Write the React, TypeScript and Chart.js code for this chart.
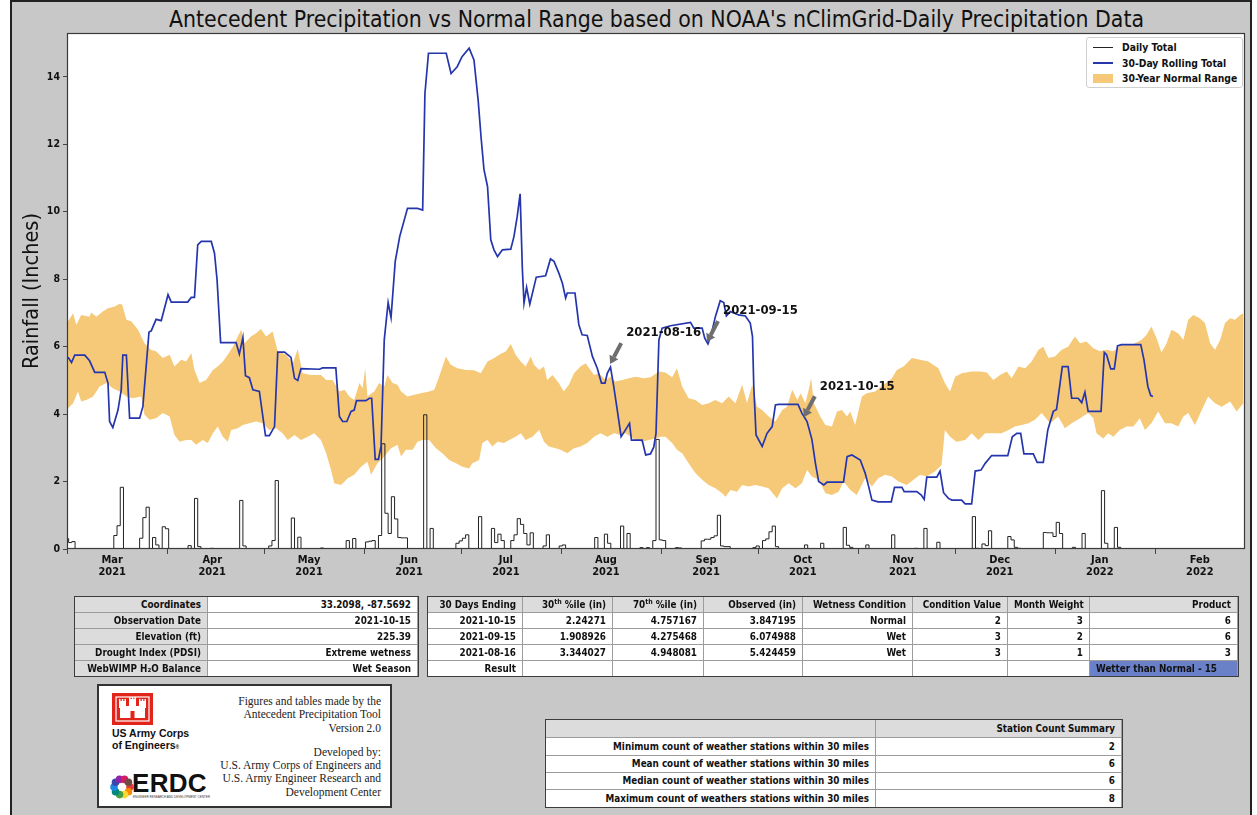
import React, { useEffect, useRef } from 'react';
import { Chart, registerables } from 'chart.js';
Chart.register(...registerables);

// ---------------- data (x = days since 2021-03-01) ----------------
const monthStarts = [0, 31, 61, 92, 122, 153, 184, 214, 245, 275, 306, 337];
const monthNames = ['Mar', 'Apr', 'May', 'Jun', 'Jul', 'Aug', 'Sep', 'Oct', 'Nov', 'Dec', 'Jan', 'Feb'];
const monthYears = ['2021', '2021', '2021', '2021', '2021', '2021', '2021', '2021', '2021', '2021', '2022', '2022'];
const yTicks = [0, 2, 4, 6, 8, 10, 12, 14];

const rollingDays = [0.3, 1.4, 2.4, 5.5, 7.0, 8.6, 11.7, 12.7, 13.2, 14.2, 15.8, 16.8, 17.3, 18.4, 19.4, 22.5, 23.5, 25.4, 26.1, 27.6, 29.2, 31.3, 32.3, 37.4, 38.5, 39.5, 40.5, 41.6, 44.7, 45.7, 46.5, 47.6, 52.4, 53.4, 54.5, 55.3, 56.5, 57.6, 59.6, 61.5, 62.7, 64.3, 65.3, 67.4, 69.4, 70.5, 71.5, 72.5, 78.2, 79.2, 83.3, 84.4, 85.4, 86.7, 88.0, 89.0, 89.7, 92.6, 93.7, 94.4, 95.5, 96.5, 97.3, 98.3, 99.5, 100.4, 101.7, 103.1, 105.5, 108.6, 110.2, 110.9, 112.0, 117.5, 119.0, 120.9, 122.4, 124.6, 126.1, 127.4, 128.3, 129.2, 130.3, 131.3, 132.3, 133.4, 134.9, 137.5, 138.5, 139.5, 140.4, 141.1, 141.6, 142.4, 143.4, 145.4, 148.3, 149.8, 150.9, 152.4, 153.5, 154.5, 155.0, 157.4, 158.6, 159.6, 161.2, 162.8, 164.3, 165.6, 166.7, 167.4, 168.4, 169.4, 170.5, 171.7, 172.7, 174.3, 174.9, 178.2, 179.3, 180.8, 181.8, 182.5, 183.4, 184.4, 187.0, 193.2, 194.2, 196.8, 197.6, 198.6, 199.7, 200.9, 202.4, 203.5, 204.3, 205.5, 208.1, 210.2, 211.7, 212.4, 212.8, 213.5, 215.4, 216.9, 218.5, 219.5, 220.5, 226.5, 227.7, 229.3, 230.8, 231.9, 232.9, 234.5, 235.5, 240.6, 241.7, 243.2, 245.8, 247.3, 248.4, 249.4, 251.3, 255.4, 256.4, 258.7, 259.4, 263.3, 264.7, 265.6, 266.4, 269.5, 270.5, 271.6, 273.1, 274.2, 277.2, 278.3, 280.3, 281.4, 283.2, 284.5, 286.5, 291.5, 292.9, 294.3, 295.5, 296.5, 299.4, 300.6, 302.5, 303.9, 305.6, 306.6, 308.4, 310.2, 311.3, 313.3, 314.4, 315.4, 316.4, 320.4, 321.4, 322.1, 323.4, 324.5, 325.5, 326.7, 332.7, 333.7, 334.9, 335.8, 336.5];
const rollingVals = [5.69, 5.53, 5.75, 5.75, 5.58, 5.24, 5.24, 4.92, 3.78, 3.6, 4.12, 4.72, 5.75, 5.75, 3.88, 3.88, 4.22, 6.43, 6.47, 6.81, 6.77, 7.54, 7.32, 7.32, 7.46, 7.46, 9.02, 9.12, 9.12, 8.77, 7.98, 6.12, 6.12, 5.78, 6.27, 5.14, 5.08, 4.72, 4.67, 3.36, 3.36, 3.63, 5.84, 5.84, 5.68, 5.06, 5.0, 5.35, 5.33, 5.37, 5.37, 3.93, 3.78, 3.78, 4.08, 4.12, 4.4, 4.4, 4.47, 4.47, 2.66, 2.66, 3.04, 6.2, 7.31, 6.86, 8.53, 9.27, 10.1, 10.1, 10.05, 13.5, 14.7, 14.7, 14.1, 14.3, 14.6, 14.85, 14.5, 13.3, 12.2, 11.25, 10.75, 9.17, 8.87, 8.67, 8.87, 8.89, 9.27, 9.86, 10.53, 8.28, 7.29, 7.76, 7.26, 8.06, 8.1, 8.6, 8.53, 8.18, 7.88, 7.44, 7.59, 7.59, 6.65, 6.35, 6.33, 5.71, 5.36, 4.92, 4.92, 5.21, 5.39, 4.82, 4.12, 3.33, 3.48, 3.73, 3.23, 3.23, 2.79, 2.82, 3.02, 3.43, 6.2, 6.55, 6.62, 6.72, 6.55, 6.55, 6.25, 6.08, 6.4, 6.89, 7.36, 7.31, 6.91, 7.04, 6.94, 6.91, 6.7, 6.3, 4.82, 3.38, 3.04, 3.43, 3.63, 4.27, 4.29, 4.29, 4.03, 3.78, 3.25, 2.54, 2.0, 1.9, 1.98, 1.98, 2.74, 2.79, 2.64, 2.25, 1.85, 1.45, 1.4, 1.4, 1.83, 1.83, 1.7, 1.7, 1.6, 1.47, 2.13, 2.13, 2.31, 1.67, 1.5, 1.45, 1.45, 1.34, 1.34, 2.31, 2.34, 2.54, 2.77, 2.77, 3.33, 3.43, 3.43, 2.82, 2.82, 2.57, 2.57, 3.53, 4.08, 4.14, 5.41, 5.41, 4.47, 4.47, 4.34, 4.65, 4.08, 4.08, 5.83, 5.76, 5.34, 5.34, 6.02, 6.06, 6.06, 5.61, 4.82, 4.55, 4.52];

const upperDays = [0.3, 1.9, 2.9, 4.4, 7.0, 7.5, 9.1, 11.1, 12.7, 14.8, 16.3, 17.1, 18.4, 19.9, 22.0, 24.0, 26.1, 27.6, 29.7, 31.8, 33.3, 35.4, 36.9, 38.5, 39.5, 41.1, 43.1, 45.2, 46.7, 48.3, 49.8, 51.4, 52.9, 54.0, 55.0, 57.0, 58.6, 60.1, 61.7, 63.7, 65.3, 67.9, 70.0, 71.5, 73.0, 75.6, 78.7, 80.3, 82.3, 84.4, 86.0, 87.5, 89.0, 90.6, 91.6, 92.4, 93.1, 95.2, 96.7, 98.3, 99.3, 100.9, 102.4, 103.5, 105.5, 107.6, 109.6, 112.2, 113.8, 115.3, 117.4, 118.9, 121.0, 123.6, 126.1, 128.2, 130.3, 132.4, 133.9, 136.0, 137.5, 139.0, 140.6, 142.1, 143.7, 144.7, 146.3, 147.8, 148.8, 150.4, 152.4, 153.9, 155.5, 157.1, 159.1, 160.7, 162.2, 163.3, 164.8, 166.9, 168.4, 169.9, 172.0, 174.1, 176.2, 178.7, 180.8, 183.4, 185.4, 187.5, 189.0, 190.6, 192.6, 194.7, 196.8, 198.8, 200.9, 203.0, 205.0, 207.1, 209.2, 210.7, 212.3, 213.8, 215.4, 217.4, 219.5, 221.6, 223.1, 224.7, 226.3, 227.3, 228.8, 229.9, 230.6, 231.4, 233.4, 235.0, 237.0, 238.6, 240.1, 241.7, 242.7, 244.2, 246.3, 247.8, 250.4, 253.0, 255.6, 257.1, 259.2, 261.8, 264.3, 266.9, 270.0, 272.0, 273.6, 275.2, 277.2, 280.3, 282.9, 285.0, 287.0, 289.1, 291.2, 292.7, 294.8, 296.9, 298.9, 301.0, 302.5, 304.1, 306.1, 308.2, 310.2, 312.3, 313.9, 315.9, 318.0, 320.1, 322.1, 324.2, 326.7, 329.8, 332.9, 334.5, 336.0, 337.6, 339.1, 340.7, 342.2, 344.3, 345.9, 347.4, 349.0, 351.0, 352.6, 354.2, 355.7, 357.3, 358.8, 360.4, 361.9, 363.5, 364.5];
const upperVals = [6.75, 6.99, 6.65, 6.94, 6.89, 7.01, 6.89, 7.04, 7.14, 7.19, 7.27, 7.24, 6.8, 6.75, 6.5, 6.1, 5.9, 5.86, 5.66, 5.76, 5.41, 5.61, 5.56, 5.81, 5.31, 4.92, 5.01, 5.31, 5.41, 5.56, 5.76, 6.0, 6.3, 6.5, 6.1, 6.3, 6.4, 6.52, 6.3, 6.45, 5.86, 5.76, 5.51, 5.93, 5.21, 5.16, 5.16, 5.01, 5.01, 4.67, 4.72, 4.52, 4.42, 4.92, 4.77, 5.36, 4.52, 4.67, 4.92, 4.82, 5.16, 4.92, 4.87, 4.67, 4.52, 4.57, 4.62, 4.67, 4.72, 5.11, 5.71, 5.46, 5.36, 5.31, 5.3, 5.21, 5.56, 5.66, 5.76, 5.86, 6.08, 5.76, 5.56, 5.41, 5.71, 5.46, 5.31, 5.41, 5.01, 5.16, 4.92, 4.67, 4.87, 5.21, 5.41, 5.51, 5.31, 5.16, 5.21, 5.01, 5.11, 4.97, 5.01, 5.06, 5.11, 5.06, 5.09, 5.26, 5.23, 5.09, 5.36, 4.82, 4.47, 4.42, 4.27, 4.32, 4.42, 4.32, 4.52, 4.32, 4.87, 4.32, 4.87, 4.22, 4.12, 3.93, 3.78, 4.12, 4.22, 4.72, 4.42, 4.62, 4.32, 4.77, 5.06, 4.32, 3.93, 3.68, 3.63, 4.08, 4.12, 3.93, 4.08, 3.68, 4.52, 4.62, 4.67, 4.87, 5.06, 5.31, 5.41, 5.66, 5.61, 5.56, 5.36, 4.92, 4.67, 5.11, 5.21, 5.26, 5.26, 5.23, 5.01, 5.16, 5.26, 5.06, 5.41, 5.36, 5.56, 5.91, 6.0, 5.66, 5.71, 5.91, 6.0, 6.3, 6.1, 6.15, 5.95, 5.86, 5.91, 5.86, 6.05, 6.05, 6.2, 6.35, 6.6, 6.25, 5.83, 6.1, 6.5, 6.4, 6.2, 6.8, 6.94, 6.84, 6.7, 6.1, 5.91, 6.2, 6.7, 6.84, 6.8, 6.94, 6.99];

const lowerDays = [0.3, 1.9, 3.4, 4.4, 6.0, 8.1, 10.1, 12.2, 14.2, 16.3, 18.4, 20.4, 23.0, 24.0, 25.6, 27.6, 29.7, 31.8, 33.3, 34.9, 36.9, 38.5, 40.0, 42.1, 43.6, 45.2, 46.7, 48.3, 49.8, 50.9, 52.9, 54.5, 56.5, 58.6, 60.6, 62.7, 64.8, 66.8, 68.4, 70.5, 72.5, 74.6, 76.6, 78.7, 80.3, 81.8, 82.8, 84.9, 87.0, 89.0, 91.1, 93.1, 94.2, 96.2, 98.3, 100.4, 102.4, 103.5, 105.0, 107.1, 108.6, 110.2, 112.2, 114.3, 116.3, 118.4, 120.5, 122.5, 124.6, 125.6, 127.7, 128.7, 130.3, 131.8, 133.4, 135.4, 137.0, 139.0, 140.6, 142.1, 144.2, 146.3, 147.8, 149.3, 151.4, 152.9, 155.0, 157.1, 159.1, 161.2, 163.3, 165.3, 167.4, 169.5, 171.5, 173.1, 174.6, 176.2, 178.2, 180.3, 182.3, 183.9, 185.4, 187.5, 189.0, 190.6, 192.6, 194.7, 196.8, 198.8, 200.9, 203.0, 204.0, 205.6, 207.6, 209.2, 211.2, 213.3, 215.4, 217.4, 220.0, 221.6, 223.6, 225.7, 227.7, 229.3, 230.8, 232.9, 235.0, 237.0, 239.1, 240.6, 242.7, 244.7, 247.3, 249.4, 251.4, 253.5, 255.6, 257.6, 260.2, 262.3, 264.3, 266.4, 268.9, 271.0, 272.0, 273.6, 275.6, 278.3, 280.3, 282.4, 284.5, 287.0, 289.6, 291.7, 293.7, 295.8, 297.9, 299.9, 302.0, 304.6, 307.1, 309.2, 311.3, 313.9, 316.4, 318.0, 319.0, 321.1, 322.6, 324.2, 326.2, 328.3, 330.4, 332.4, 334.0, 336.0, 338.1, 340.2, 342.2, 344.3, 345.9, 347.4, 349.5, 351.6, 353.6, 355.7, 357.8, 360.4, 362.4, 364.5];
const lowerVals = [4.17, 4.32, 4.67, 4.37, 4.42, 4.52, 4.82, 4.92, 4.77, 4.67, 4.52, 4.47, 4.52, 3.98, 3.83, 3.88, 4.03, 3.93, 3.38, 3.18, 3.23, 3.23, 3.09, 3.23, 3.14, 3.43, 3.63, 3.33, 3.18, 3.53, 3.58, 3.68, 3.73, 3.78, 3.73, 3.53, 3.58, 3.43, 3.23, 3.38, 3.23, 3.33, 3.43, 3.23, 2.84, 2.34, 1.95, 1.9, 2.1, 2.2, 2.44, 2.59, 2.2, 2.54, 2.74, 2.99, 3.09, 2.74, 2.94, 2.94, 3.18, 3.23, 3.23, 2.99, 2.84, 2.64, 2.54, 2.44, 2.39, 2.54, 2.64, 3.14, 3.23, 3.04, 3.18, 3.14, 3.23, 3.33, 3.43, 3.23, 3.33, 3.53, 3.18, 3.04, 2.99, 2.94, 2.84, 2.99, 3.04, 3.14, 3.33, 3.43, 3.33, 3.43, 3.38, 3.43, 3.33, 3.23, 3.18, 3.23, 3.28, 3.33, 3.33, 3.14, 2.94, 2.84, 2.54, 2.25, 2.05, 1.9, 1.8, 1.65, 1.55, 1.75, 1.7, 1.9, 1.85, 1.9, 1.85, 1.8, 1.5, 1.8, 1.95, 1.8, 1.95, 2.34, 2.15, 2.05, 1.65, 1.6, 1.7, 2.0, 1.75, 1.6, 2.1, 1.85, 2.1, 2.2, 2.15, 2.0, 1.9, 2.05, 2.2, 2.15, 2.3, 2.49, 3.53, 3.33, 3.18, 3.23, 3.43, 3.23, 3.43, 3.43, 3.43, 3.53, 3.63, 3.68, 3.73, 3.83, 4.03, 3.73, 3.93, 3.58, 3.73, 3.88, 4.03, 3.88, 3.43, 3.28, 3.43, 3.33, 3.53, 3.63, 3.63, 3.88, 3.53, 3.73, 4.08, 3.73, 3.73, 3.63, 3.93, 4.03, 3.68, 4.12, 4.52, 4.32, 4.22, 4.37, 4.08, 4.32];

// daily totals: day index of each rainy day, and its total (all other days are 0)
const dailyDays = [0, 1, 2, 15, 16, 17, 23, 24, 25, 27, 28, 30, 31, 38, 40, 41, 45, 54, 55, 63, 64, 65, 70, 72, 79, 87, 89, 93, 94, 95, 97, 98, 99, 100, 101, 102, 103, 104, 105, 111, 113, 121, 122, 123, 124, 128, 132, 133, 134, 135, 138, 139, 140, 141, 142, 143, 144, 148, 149, 153, 154, 164, 167, 168, 172, 174, 178, 180, 182, 183, 184, 185, 189, 190, 197, 198, 199, 200, 201, 202, 203, 204, 205, 213, 214, 216, 217, 218, 219, 220, 229, 234, 241, 242, 243, 248, 256, 263, 266, 270, 281, 282, 284, 285, 286, 292, 293, 294, 295, 303, 304, 305, 306, 307, 308, 312, 315, 321, 322, 325, 326];
const dailyVals = [0.32, 0.19, 0.22, 0.4, 0.69, 1.83, 0.32, 0.93, 1.24, 0.34, 0.12, 0.66, 0.6, 0.1, 1.5, 0.07, 0.02, 1.44, 0.09, 0.09, 0.25, 2.03, 0.92, 0.35, 0.03, 0.25, 0.31, 0.21, 0.23, 0.25, 0.4, 3.12, 1.06, 0.46, 1.55, 0.89, 0.34, 0.33, 0.33, 3.98, 0.61, 0.17, 0.24, 0.32, 0.42, 0.96, 0.61, 0.19, 0.44, 0.25, 0.25, 0.42, 0.9, 0.73, 0.46, 0.12, 0.48, 0.09, 0.42, 0.09, 0.12, 0.34, 0.44, 0.17, 0.68, 0.46, 0.04, 0.04, 0.25, 3.25, 0.27, 0.25, 0.04, 0.03, 0.24, 0.29, 0.29, 0.34, 0.39, 1.0, 0.09, 0.07, 0.07, 0.04, 0.09, 0.25, 0.3, 0.51, 0.68, 0.07, 0.12, 0.17, 0.64, 0.11, 0.05, 0.12, 0.42, 0.02, 0.61, 0.2, 0.96, 0.02, 0.15, 0.1, 0.54, 0.37, 0.27, 0.05, 0.02, 0.49, 0.48, 0.48, 0.37, 0.79, 0.46, 0.05, 0.46, 1.73, 0.17, 0.64, 0.05];
const dailyLastDay = 327;

const annotLabels = ['2021-08-16', '2021-09-15', '2021-10-15'];
const annotDays = [168, 198, 228];
const annotVals = [5.424459, 6.074988, 3.847195];

// tables
const siteLabels = ['Coordinates', 'Observation Date', 'Elevation (ft)', 'Drought Index (PDSI)', 'WebWIMP H₂O Balance'];
const siteValues = ['33.2098, -87.5692', '2021-10-15', '225.39', 'Extreme wetness', 'Wet Season'];

const periodHeader = ['30 Days Ending', '30th %ile  (in)', '70th %ile  (in)', 'Observed (in)', 'Wetness Condition', 'Condition Value', 'Month Weight', 'Product'];
const periodEnds = ['2021-10-15', '2021-09-15', '2021-08-16'];
const pct30 = ['2.24271', '1.908926', '3.344027'];
const pct70 = ['4.757167', '4.275468', '4.948081'];
const observed = ['3.847195', '6.074988', '5.424459'];
const wetness = ['Normal', 'Wet', 'Wet'];
const condValue = ['2', '3', '3'];
const monthWeight = ['3', '2', '1'];
const product = ['6', '6', '3'];
const resultText = 'Wetter than Normal - 15';

const stationHeader = 'Station Count Summary';
const stationLabels = ['Minimum count of weather stations within 30 miles', 'Mean count of weather stations within 30 miles', 'Median count of weather stations within 30 miles', 'Maximum count of weathers stations within 30 miles'];
const stationValues = ['2', '6', '6', '8'];

const creditLines = ['Figures and tables made by the', 'Antecedent Precipitation Tool', 'Version 2.0'];
const devLines = ['Developed by:', 'U.S. Army Corps of Engineers and', 'U.S. Army Engineer Research and', 'Development Center'];

// ---------------- styling ----------------
const FONT = "'DejaVu Sans Condensed', 'DejaVu Sans', sans-serif";
const FIG_BG = '#c8c8c8';
const BAND = '#f6c978';
const BLUE = '#2536ad';
const HEAD_BG = '#dcdcdc';

const zip = (xs: number[], ys: number[]) => xs.map((x, i) => ({ x, y: ys[i] }));

// each daily bar spans its day; drawn as a step outline
function buildDaily() {
  const map = new Map<number, number>();
  dailyDays.forEach((d, i) => map.set(d, dailyVals[i]));
  const pts: { x: number; y: number }[] = [];
  for (let d = 0; d <= dailyLastDay; d++) pts.push({ x: d + 0.5, y: map.get(d) ?? 0 });
  return pts;
}

const framePlugin = {
  id: 'frame',
  beforeDraw(chart: any) {
    const { ctx, chartArea: a } = chart;
    ctx.save();
    ctx.fillStyle = '#ffffff';
    ctx.fillRect(a.left, a.top, a.right - a.left, a.bottom - a.top);
    ctx.restore();
  },
  afterDraw(chart: any) {
    const { ctx, chartArea: a } = chart;
    const xs = chart.scales.x;
    ctx.save();
    ctx.strokeStyle = '#3a3a3a';
    ctx.lineWidth = 1.2;
    ctx.strokeRect(a.left + 0.5, a.top + 0.5, a.right - a.left - 1, a.bottom - a.top - 1);
    ctx.strokeStyle = '#444';
    ctx.lineWidth = 1;
    monthStarts.forEach((d) => {
      const px = Math.round(xs.getPixelForValue(d)) + 0.5;
      ctx.beginPath();
      ctx.moveTo(px, a.bottom);
      ctx.lineTo(px, a.bottom + 5);
      ctx.stroke();
    });
    ctx.restore();
  },
};

const annotPlugin = {
  id: 'annots',
  afterDatasetsDraw(chart: any) {
    const { ctx } = chart;
    const xs = chart.scales.x;
    const ys = chart.scales.y;
    ctx.save();
    annotDays.forEach((d, i) => {
      const tx = xs.getPixelForValue(d) + 1;
      const ty = ys.getPixelForValue(annotVals[i]) - 2;
      const sx = tx + 11;
      const sy = ty - 21;
      const ang = Math.atan2(ty - sy, tx - sx);
      const hl = 8;
      const bx = tx - hl * Math.cos(ang);
      const by = ty - hl * Math.sin(ang);
      ctx.strokeStyle = '#6e6e6e';
      ctx.fillStyle = '#6e6e6e';
      ctx.lineWidth = 4;
      ctx.lineCap = 'butt';
      ctx.beginPath();
      ctx.moveTo(sx, sy);
      ctx.lineTo(bx, by);
      ctx.stroke();
      const px = -Math.sin(ang), py = Math.cos(ang);
      ctx.beginPath();
      ctx.moveTo(tx, ty);
      ctx.lineTo(bx + px * 5, by + py * 5);
      ctx.lineTo(bx - px * 5, by - py * 5);
      ctx.closePath();
      ctx.fill();
      ctx.fillStyle = '#111';
      ctx.font = `bold 13px ${FONT}`;
      ctx.textAlign = 'left';
      ctx.textBaseline = 'middle';
      ctx.fillText(annotLabels[i], tx + 16, ty - 31);
    });
    ctx.restore();
  },
};

function ChartCanvas() {
  const ref = useRef<HTMLCanvasElement>(null);
  useEffect(() => {
    if (!ref.current) return;
    const chart = new Chart(ref.current, {
      type: 'line',
      data: {
        datasets: [
          { label: 'upper', data: zip(upperDays, upperVals), borderWidth: 0, borderColor: 'rgba(0,0,0,0)', backgroundColor: BAND, pointRadius: 0, fill: '+1', order: 2 } as any,
          { label: 'lower', data: zip(lowerDays, lowerVals), borderWidth: 0, borderColor: 'rgba(0,0,0,0)', pointRadius: 0, fill: false, order: 2 },
          { label: 'Daily Total', data: buildDaily(), borderColor: '#222', borderWidth: 1, stepped: 'after', pointRadius: 0, fill: false, order: 1 },
          { label: '30-Day Rolling Total', data: zip(rollingDays, rollingVals), borderColor: BLUE, borderWidth: 1.7, pointRadius: 0, fill: false, order: 0 },
        ],
      },
      options: {
        animation: false,
        responsive: false,
        devicePixelRatio: 1,
        layout: { padding: { left: 20, right: 12, top: 33, bottom: 0 } },
        scales: {
          x: {
            type: 'linear',
            min: 0,
            max: 365,
            afterBuildTicks: (s: any) => { s.ticks = monthStarts.map((d) => ({ value: d + 14 })); },
            afterFit: (s: any) => { s.height = 51; },
            grid: { display: false, drawTicks: false },
            border: { display: false },
            ticks: {
              autoSkip: false,
              maxRotation: 0,
              padding: 5,
              color: '#111',
              font: { family: FONT, size: 11, weight: 'bold', lineHeight: 1.1 },
              callback: (v: any) => {
                const i = monthStarts.findIndex((d) => d + 14 === v);
                return i >= 0 ? [monthNames[i], monthYears[i]] : '';
              },
            },
          },
          y: {
            type: 'linear',
            min: 0,
            max: 15.3,
            afterBuildTicks: (s: any) => { s.ticks = yTicks.map((v) => ({ value: v })); },
            afterFit: (s: any) => { s.width = 47; },
            grid: { display: true, drawOnChartArea: false, drawTicks: true, tickLength: 4, color: '#444' },
            border: { display: false },
            ticks: { padding: 3, color: '#111', font: { family: FONT, size: 10.5, weight: 'bold' } },
            title: { display: true, text: 'Rainfall (Inches)', color: '#111', padding: 0, font: { family: FONT, size: 21.5, weight: 'normal' } },
          },
        },
        plugins: { legend: { display: false }, tooltip: { enabled: false }, title: { display: false } },
      },
      plugins: [framePlugin, annotPlugin],
    });
    return () => chart.destroy();
  }, []);
  return <canvas ref={ref} width={1257} height={600} style={{ position: 'absolute', left: 0, top: 0, width: 1257, height: 600 }} />;
}

function Sup({ t }: { t: string }) {
  const m = t.match(/^(\d+)th(.*)$/);
  if (!m) return <>{t}</>;
  return <>{m[1]}<sup style={{ fontSize: 7, verticalAlign: 4, lineHeight: 0 }}>th</sup>{m[2]}</>;
}

type Cell = { text: string; bg?: string; align?: 'left' | 'right' };

function Grid({ xs, ys, rows, fontSize = 9.8 }: { xs: number[]; ys: number[]; rows: Cell[][]; fontSize?: number }) {
  const cells: React.ReactNode[] = [];
  rows.forEach((r, ri) => {
    r.forEach((c, ci) => {
      const left = xs[ci];
      const top = ys[ri];
      const w = xs[ci + 1] - left;
      const h = ys[ri + 1] - top;
      cells.push(
        <div
          key={`${ri}-${ci}`}
          style={{
            position: 'absolute',
            left,
            top,
            width: w,
            height: h,
            boxSizing: 'border-box',
            borderRight: '1px solid #9c9c9c',
            borderBottom: '1px solid #9c9c9c',
            background: c.bg || '#fff',
            fontFamily: FONT,
            fontWeight: 'bold',
            fontSize,
            color: '#111',
            lineHeight: `${h - 1}px`,
            textAlign: c.align || 'right',
            padding: '0 6px',
            whiteSpace: 'nowrap',
            overflow: 'hidden',
          }}
        >
          <Sup t={c.text} />
        </div>,
      );
    });
  });
  const L = xs[0], T = ys[0], W = xs[xs.length - 1] - L, H = ys[ys.length - 1] - T;
  return (
    <>
      {cells}
      <div style={{ position: 'absolute', left: L - 1, top: T - 1, width: W + 2, height: H + 1, border: '1px solid #3c3c3c', boxSizing: 'border-box', pointerEvents: 'none' }} />
    </>
  );
}

function Legend() {
  const items = [
    { label: 'Daily Total', kind: 'line', color: '#222', w: 1 },
    { label: '30-Day Rolling Total', kind: 'line', color: BLUE, w: 2 },
    { label: '30-Year Normal Range', kind: 'box', color: BAND, w: 0 },
  ];
  return (
    <div style={{ position: 'absolute', left: 1086, top: 37, width: 157, height: 51, background: '#fff', border: '1px solid #d0d0d0', borderRadius: 3, boxSizing: 'border-box' }}>
      {items.map((it, i) => (
        <div key={i} style={{ position: 'absolute', left: 0, top: 2 + i * 15.5, height: 15, width: 156 }}>
          {it.kind === 'line' ? (
            <div style={{ position: 'absolute', left: 6, top: 7.5 - it.w / 2, width: 20, height: it.w, background: it.color }} />
          ) : (
            <div style={{ position: 'absolute', left: 6, top: 3, width: 20, height: 9, background: it.color }} />
          )}
          <div style={{ position: 'absolute', left: 35, top: 0, lineHeight: '15px', fontFamily: FONT, fontWeight: 'bold', fontSize: 10.3, color: '#111', whiteSpace: 'nowrap' }}>{it.label}</div>
        </div>
      ))}
    </div>
  );
}

function Logos() {
  const petals = ['#e53935', '#fb8c00', '#fdd835', '#43a047', '#00897b', '#1e88e5', '#3949ab', '#8e24aa', '#d81b60', '#6d4c41'];
  return (
    <div style={{ position: 'absolute', left: 97, top: 684, width: 295, height: 124, background: '#fff', border: '2px solid #333', boxSizing: 'border-box' }}>
      <svg width={60} height={40} style={{ position: 'absolute', left: 13, top: 7 }}>
        <rect x={0} y={0} width={41} height={32} fill="#e1251b" />
        <rect x={4} y={4} width={33} height={24} fill="none" stroke="#fff" strokeWidth={1.2} />
        <g fill="#fff">
          <rect x={8} y={13} width={25} height={12} />
          <rect x={7} y={8} width={7} height={7} />
          <rect x={17} y={6} width={7} height={9} />
          <rect x={27} y={8} width={7} height={7} />
          <rect x={7} y={6} width={1.5} height={2} /><rect x={9.8} y={6} width={1.5} height={2} /><rect x={12.5} y={6} width={1.5} height={2} />
          <rect x={17} y={4} width={1.5} height={2} /><rect x={19.8} y={4} width={1.5} height={2} /><rect x={22.5} y={4} width={1.5} height={2} />
          <rect x={27} y={6} width={1.5} height={2} /><rect x={29.8} y={6} width={1.5} height={2} /><rect x={32.5} y={6} width={1.5} height={2} />
        </g>
        <rect x={18.5} y={18} width={4} height={7} fill="#e1251b" />
      </svg>
      <div style={{ position: 'absolute', left: 13, top: 41, fontFamily: "'Liberation Sans', Arial, sans-serif", fontWeight: 'bold', fontSize: 10.5, lineHeight: '12px', color: '#111' }}>
        US Army Corps<br />of Engineers<span style={{ fontSize: 5 }}>®</span>
      </div>
      <svg width={26} height={26} style={{ position: 'absolute', left: 10, top: 88 }}>
        {petals.map((c, i) => {
          const a = (i / petals.length) * Math.PI * 2;
          return <circle key={i} cx={13 + 8 * Math.cos(a)} cy={13 + 8 * Math.sin(a)} r={3.8} fill={c} />;
        })}
        <circle cx={13} cy={13} r={3.5} fill="#fff" />
      </svg>
      <div style={{ position: 'absolute', left: 33, top: 83, fontFamily: "'Liberation Sans', Arial, sans-serif", fontWeight: 900, fontSize: 26, letterSpacing: 0.3, color: '#111', lineHeight: '28px' }}>ERDC</div>
      <div style={{ position: 'absolute', left: 34, top: 109, fontFamily: "'Liberation Sans', Arial, sans-serif", fontSize: 3, color: '#333', whiteSpace: 'nowrap' }}>ENGINEER RESEARCH AND DEVELOPMENT CENTER</div>
      <div style={{ position: 'absolute', right: 9, top: 9, textAlign: 'right', fontFamily: "'Liberation Serif', 'Times New Roman', serif", fontSize: 11.5, lineHeight: '13.3px', color: '#222' }}>
        {creditLines.map((l, i) => <div key={i}>{l}</div>)}
        <div style={{ height: 11 }} />
        {devLines.map((l, i) => <div key={i}>{l}</div>)}
      </div>
    </div>
  );
}

export default function App() {
  const t1: Cell[][] = siteLabels.map((l, i) => [{ text: l, bg: HEAD_BG }, { text: siteValues[i] }]);
  const t2: Cell[][] = [
    periodHeader.map((h) => ({ text: h, bg: HEAD_BG })),
    ...periodEnds.map((d, i) => [d, pct30[i], pct70[i], observed[i], wetness[i], condValue[i], monthWeight[i], product[i]].map((t) => ({ text: t }))),
    [{ text: 'Result' }, { text: '' }, { text: '' }, { text: '' }, { text: '' }, { text: '' }, { text: '' }, { text: resultText, bg: '#6a80c8', align: 'left' }],
  ];
  const t3: Cell[][] = [
    [{ text: '', bg: HEAD_BG }, { text: stationHeader, bg: HEAD_BG }],
    ...stationLabels.map((l, i) => [{ text: l }, { text: stationValues[i] }]),
  ];
  const rowsTop = [597, 613, 629, 645, 661, 677];
  return (
    <div style={{ position: 'fixed', left: 0, top: 0, width: 1257, height: 815, background: '#fff', overflow: 'hidden' }}>
      <div style={{ position: 'absolute', left: 10, top: 0, width: 1242, height: 815, background: FIG_BG, borderLeft: '2px solid #222', borderTop: '2px solid #222', borderRight: '2px solid #222', boxSizing: 'border-box' }} />
      <div style={{ position: 'absolute', left: 0, top: 5, width: 1313, textAlign: 'center', fontFamily: FONT, fontSize: 22.8, color: '#111', lineHeight: '28px', whiteSpace: 'nowrap' }}>
        Antecedent Precipitation vs Normal Range based on NOAA's nClimGrid-Daily Precipitation Data
      </div>
      <ChartCanvas />
      <Legend />
      <Grid xs={[75, 208, 418]} ys={rowsTop} rows={t1} />
      <Grid xs={[428, 523, 613, 704, 803, 913, 1008, 1090, 1238]} ys={rowsTop} rows={t2} />
      <Grid xs={[546, 876, 1122]} ys={[720, 738, 756, 773, 790, 808]} rows={t3} />
      <Logos />
    </div>
  );
}
